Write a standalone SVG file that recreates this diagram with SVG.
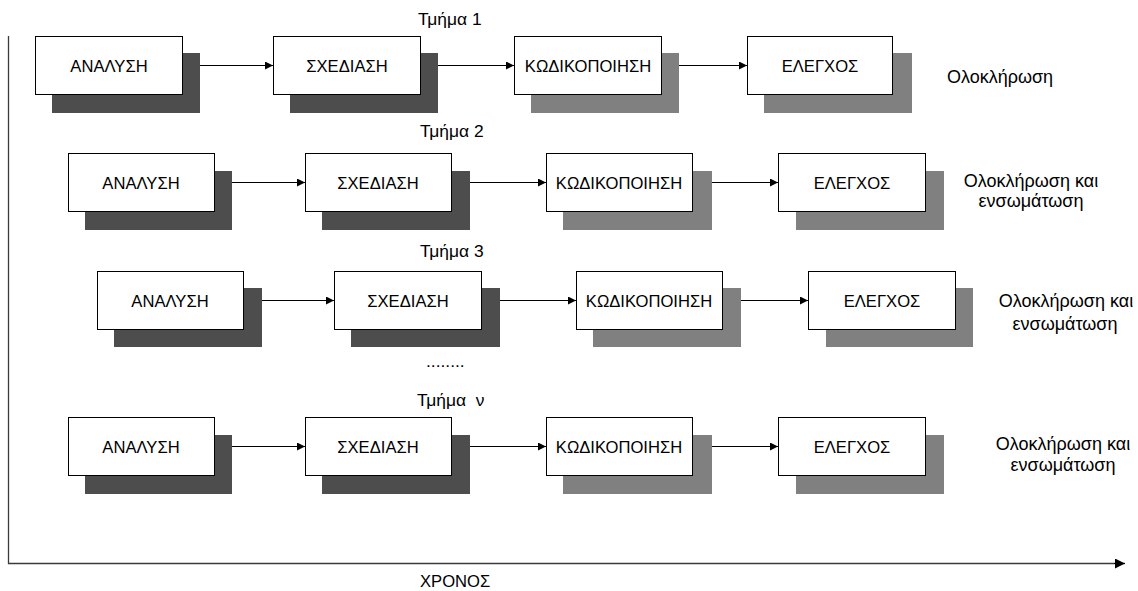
<svg xmlns="http://www.w3.org/2000/svg" width="1138" height="591" viewBox="0 0 1138 591">
  <style>
    text { font-family: "Liberation Sans", Arial, sans-serif; font-size: 16.6px; fill: #000; }
    .ttl { font-size: 17.4px; }
    .end { font-size: 18px; text-anchor: middle; }
    .box { fill: #fff; stroke: #000; stroke-width: 1; }
    .sh-dark { fill: #4d4d4d; }
    .sh-light { fill: #808080; }
    .lbl { text-anchor: middle; }
    .flow { stroke: #000; stroke-width: 1.2; fill: none; marker-end: url(#tip); }
    .axis { stroke: #3a3a3a; stroke-width: 1.3; fill: none; }
  </style>
  <defs>
    <marker id="tip" viewBox="0 0 10 10" refX="10" refY="5" markerWidth="10" markerHeight="8" markerUnits="userSpaceOnUse" orient="auto">
      <path d="M0,0 L10,5 L0,10 z" fill="#000"/>
    </marker>
    <marker id="axtip" viewBox="0 0 10 10" refX="10" refY="5" markerWidth="11" markerHeight="10" markerUnits="userSpaceOnUse" orient="auto">
      <path d="M0,0 L10,5 L0,10 z" fill="#000"/>
    </marker>
  </defs>

  <!-- time axes -->
  <g id="axes">
    <path class="axis" d="M8.5,36 V563.5 H1114"/>
    <path d="M1114,563.5 H1125" stroke="#000" stroke-width="1.3" marker-end="url(#axtip)"/>
    <text x="420" y="587">ΧΡΟΝΟΣ</text>
  </g>

  <!-- connectors -->
  <g id="connectors">
    <line class="flow" x1="182" y1="65.5" x2="273" y2="65.5"/>
    <line class="flow" x1="420" y1="65.5" x2="514" y2="65.5"/>
    <line class="flow" x1="661" y1="65.5" x2="747" y2="65.5"/>

    <line class="flow" x1="215" y1="182.5" x2="305" y2="182.5"/>
    <line class="flow" x1="452" y1="182.5" x2="546" y2="182.5"/>
    <line class="flow" x1="693" y1="182.5" x2="778" y2="182.5"/>

    <line class="flow" x1="244" y1="300.5" x2="334" y2="300.5"/>
    <line class="flow" x1="481" y1="300.5" x2="576" y2="300.5"/>
    <line class="flow" x1="723" y1="300.5" x2="808" y2="300.5"/>

    <line class="flow" x1="215" y1="446.5" x2="305" y2="446.5"/>
    <line class="flow" x1="452" y1="446.5" x2="546" y2="446.5"/>
    <line class="flow" x1="693" y1="446.5" x2="778" y2="446.5"/>
  </g>

  <!-- part 1 -->
  <text class="ttl" x="418" y="25">Τμήμα 1</text>
  <g id="r1-analysis">
    <rect class="sh-dark" x="52" y="53" width="148" height="60"/>
    <rect class="box" x="35.5" y="36.5" width="147" height="58"/>
    <text class="lbl" x="109" y="72">ΑΝΑΛΥΣΗ</text>
  </g>
  <g id="r1-design">
    <rect class="sh-dark" x="290" y="53" width="148" height="60"/>
    <rect class="box" x="273.5" y="36.5" width="147" height="58"/>
    <text class="lbl" x="347" y="72">ΣΧΕΔΙΑΣΗ</text>
  </g>
  <g id="r1-coding">
    <rect class="sh-light" x="531" y="53" width="148" height="60"/>
    <rect class="box" x="514.5" y="36.5" width="147" height="58"/>
    <text class="lbl" x="588" y="72">ΚΩΔΙΚΟΠΟΙΗΣΗ</text>
  </g>
  <g id="r1-testing">
    <rect class="sh-light" x="764" y="53" width="148" height="60"/>
    <rect class="box" x="747.5" y="36.5" width="145" height="58"/>
    <text class="lbl" x="820" y="72">ΕΛΕΓΧΟΣ</text>
  </g>
  <text class="end" x="1000" y="83">Ολοκλήρωση</text>

  <!-- part 2 -->
  <text class="ttl" x="420" y="137">Τμήμα 2</text>
  <g id="r2-analysis">
    <rect class="sh-dark" x="85" y="171" width="147" height="59"/>
    <rect class="box" x="68.5" y="153.5" width="146" height="58"/>
    <text class="lbl" x="141" y="189">ΑΝΑΛΥΣΗ</text>
  </g>
  <g id="r2-design">
    <rect class="sh-dark" x="322" y="171" width="148" height="59"/>
    <rect class="box" x="305.5" y="153.5" width="146" height="58"/>
    <text class="lbl" x="378" y="189">ΣΧΕΔΙΑΣΗ</text>
  </g>
  <g id="r2-coding">
    <rect class="sh-light" x="563" y="171" width="149" height="59"/>
    <rect class="box" x="546.5" y="153.5" width="146" height="58"/>
    <text class="lbl" x="619" y="189">ΚΩΔΙΚΟΠΟΙΗΣΗ</text>
  </g>
  <g id="r2-testing">
    <rect class="sh-light" x="796" y="171" width="148" height="59"/>
    <rect class="box" x="778.5" y="153.5" width="147" height="58"/>
    <text class="lbl" x="852" y="189">ΕΛΕΓΧΟΣ</text>
  </g>
  <text class="end" x="1031" y="187">Ολοκλήρωση και</text>
  <text class="end" x="1031" y="207">ενσωμάτωση</text>

  <!-- part 3 -->
  <text class="ttl" x="420" y="257">Τμήμα 3</text>
  <g id="r3-analysis">
    <rect class="sh-dark" x="114" y="288" width="148" height="59"/>
    <rect class="box" x="97.5" y="271.5" width="146" height="58"/>
    <text class="lbl" x="170" y="307">ΑΝΑΛΥΣΗ</text>
  </g>
  <g id="r3-design">
    <rect class="sh-dark" x="351" y="288" width="149" height="59"/>
    <rect class="box" x="334.5" y="271.5" width="147" height="58"/>
    <text class="lbl" x="408" y="307">ΣΧΕΔΙΑΣΗ</text>
  </g>
  <g id="r3-coding">
    <rect class="sh-light" x="593" y="288" width="148" height="59"/>
    <rect class="box" x="576.5" y="271.5" width="146" height="58"/>
    <text class="lbl" x="649" y="307">ΚΩΔΙΚΟΠΟΙΗΣΗ</text>
  </g>
  <g id="r3-testing">
    <rect class="sh-light" x="826" y="288" width="147" height="59"/>
    <rect class="box" x="808.5" y="271.5" width="147" height="58"/>
    <text class="lbl" x="882" y="307">ΕΛΕΓΧΟΣ</text>
  </g>
  <text class="end" x="1066" y="307">Ολοκλήρωση και</text>
  <text class="end" x="1065" y="330">ενσωμάτωση</text>

  <text class="ttl" x="426" y="367">........</text>

  <!-- part n -->
  <text class="ttl" x="417" y="406" xml:space="preserve" style="white-space:pre">Τμήμα  ν</text>
  <g id="rn-analysis">
    <rect class="sh-dark" x="85" y="435" width="147" height="59"/>
    <rect class="box" x="68.5" y="417.5" width="146" height="58"/>
    <text class="lbl" x="141" y="453">ΑΝΑΛΥΣΗ</text>
  </g>
  <g id="rn-design">
    <rect class="sh-dark" x="322" y="435" width="148" height="59"/>
    <rect class="box" x="305.5" y="417.5" width="146" height="58"/>
    <text class="lbl" x="378" y="453">ΣΧΕΔΙΑΣΗ</text>
  </g>
  <g id="rn-coding">
    <rect class="sh-light" x="563" y="435" width="149" height="59"/>
    <rect class="box" x="546.5" y="417.5" width="146" height="58"/>
    <text class="lbl" x="619" y="453">ΚΩΔΙΚΟΠΟΙΗΣΗ</text>
  </g>
  <g id="rn-testing">
    <rect class="sh-light" x="796" y="435" width="148" height="59"/>
    <rect class="box" x="778.5" y="417.5" width="147" height="58"/>
    <text class="lbl" x="852" y="453">ΕΛΕΓΧΟΣ</text>
  </g>
  <text class="end" x="1063" y="450">Ολοκλήρωση και</text>
  <text class="end" x="1063" y="471">ενσωμάτωση</text>
</svg>
